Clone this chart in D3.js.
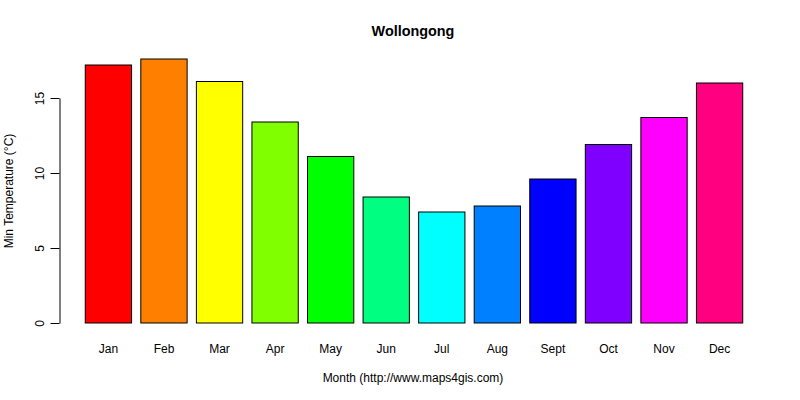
<!DOCTYPE html>
<html>
<head>
<meta charset="utf-8">
<script src="https://cdn.jsdelivr.net/npm/d3@7"></script>
<style>
  body { margin: 0; background: #fff; }
  svg { font-family: "Liberation Sans", Arial, sans-serif; }
</style>
</head>
<body>
<svg id="chart" width="800" height="400"></svg>
<script>
// Chart data
const months = ["Jan", "Feb", "Mar", "Apr", "May", "Jun", "Jul", "Aug", "Sept", "Oct", "Nov", "Dec"];
const minTemps = [17.2, 17.6, 16.1, 13.4, 11.1, 8.4, 7.4, 7.8, 9.6, 11.9, 13.7, 16.0];
const barColors = ["#FF0000", "#FF8000", "#FFFF00", "#80FF00", "#00FF00", "#00FF80",
  "#00FFFF", "#0080FF", "#0000FF", "#8000FF", "#FF00FF", "#FF0080"];
const yTicks = [0, 5, 10, 15];

const data = months.map((m, i) => ({ month: m, value: minTemps[i], color: barColors[i] }));

const svg = d3.select("#chart");

const xScale = d3
  .scaleBand()
  .domain(months)
  .range([76, 752])
  .paddingInner(1 / 6)
  .paddingOuter(1 / 6);

const yScale = d3.scaleLinear().domain([0, 18]).range([323, 53]);

// Bars
svg
  .selectAll("rect.bar")
  .data(data)
  .enter()
  .append("rect")
  .attr("class", "bar")
  .attr("x", (d) => xScale(d.month))
  .attr("y", (d) => yScale(d.value))
  .attr("width", xScale.bandwidth())
  .attr("height", (d) => yScale(0) - yScale(d.value))
  .style("fill", (d) => d.color)
  .style("stroke", "#000")
  .style("stroke-width", 1);

// Y axis (line spans the tick range only, like R)
const yAxisScale = yScale.copy().domain([0, 15]).range([yScale(0), yScale(15)]);
const yAxis = svg
  .append("g")
  .attr("transform", "translate(59.5,0)")
  .call(d3.axisLeft(yAxisScale).tickValues(yTicks).tickSize(9).tickSizeOuter(0));

yAxis.select(".domain").attr("stroke", "#000");
yAxis.selectAll(".tick line").attr("stroke", "#000");
yAxis
  .selectAll(".tick text")
  .attr("x", 0)
  .attr("dy", 0)
  .attr("text-anchor", "middle")
  .attr("transform", "translate(-16,0) rotate(-90)")
  .style("font-size", "12px")
  .style("font-family", "'Liberation Sans', Arial, sans-serif")
  .attr("fill", "#000");

// Month labels
svg
  .selectAll("text.month")
  .data(data)
  .enter()
  .append("text")
  .attr("class", "month")
  .attr("x", (d) => xScale(d.month) + xScale.bandwidth() / 2)
  .attr("y", 353)
  .attr("text-anchor", "middle")
  .style("font-size", "12px")
  .text((d) => d.month);

// Titles
svg
  .append("text")
  .attr("x", 413)
  .attr("y", 36)
  .attr("text-anchor", "middle")
  .style("font-size", "14.4px")
  .style("font-weight", "bold")
  .text("Wollongong");

svg
  .append("text")
  .attr("x", 413)
  .attr("y", 382)
  .attr("text-anchor", "middle")
  .style("font-size", "12px")
  .text("Month (http://www.maps4gis.com)");

svg
  .append("text")
  .attr("transform", "translate(13,191) rotate(-90)")
  .attr("text-anchor", "middle")
  .style("font-size", "12px")
  .text("Min Temperature (°C)");
</script>
</body>
</html>
